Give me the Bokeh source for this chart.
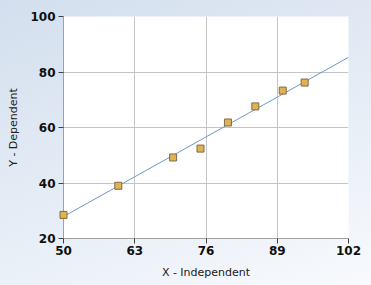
from bokeh.plotting import figure
from bokeh.embed import file_html
from bokeh.resources import INLINE
from bokeh.models import FixedTicker, Range1d

x_vals = [50, 60, 70, 75, 80, 85, 90, 94]
y_vals = [28.5, 39.0, 49.2, 52.4, 61.8, 67.6, 73.3, 76.2]
fit_x = [50, 102]
fit_y = [27.9, 85.3]
x_ticks = [50, 63, 76, 89, 102]
y_ticks = [20, 40, 60, 80, 100]

p = figure(frame_width=285, frame_height=222, output_backend="svg", toolbar_location=None,
           x_range=Range1d(50, 102), y_range=Range1d(20, 100),
           min_border_left=63, min_border_right=23, min_border_top=16, min_border_bottom=47)
p.styles = {"background": "linear-gradient(160deg, #d3dfee 0%, #e6edf6 55%, #f8fafd 100%)"}
p.border_fill_color = None
p.background_fill_color = "white"
p.outline_line_color = None

p.line(fit_x, fit_y, line_color="#6f97c9", line_width=1)
p.scatter(x_vals, y_vals, marker="square", size=7, fill_color="#e2b24e",
          line_color="#7d6a4c", line_width=1, level="overlay")

p.xaxis.ticker = FixedTicker(ticks=x_ticks)
p.yaxis.ticker = FixedTicker(ticks=y_ticks)
p.xaxis.axis_label = "X - Independent"
p.yaxis.axis_label = "Y - Dependent"
for ax in (p.xaxis[0], p.yaxis[0]):
    ax.axis_line_color = "#a0a0a0"
    ax.major_tick_line_color = "#404040"
    ax.major_tick_out = 5
    ax.major_tick_in = 0
    ax.minor_tick_line_color = None
    ax.major_label_text_font = "DejaVu Sans"
    ax.major_label_text_font_size = "12px"
    ax.major_label_text_font_style = "bold"
    ax.major_label_text_color = "#101010"
    ax.axis_label_text_font = "DejaVu Sans"
    ax.axis_label_text_font_size = "11px"
    ax.axis_label_text_font_style = "normal"
    ax.axis_label_text_color = "#202020"
p.xaxis.major_label_standoff = 2
p.yaxis.major_label_standoff = 3
p.xaxis.axis_label_standoff = 8
p.yaxis.axis_label_standoff = 7
p.xgrid.grid_line_color = "#c4c4c4"
p.ygrid.grid_line_color = "#c4c4c4"

open("out.html", "w").write(file_html(p, INLINE))
